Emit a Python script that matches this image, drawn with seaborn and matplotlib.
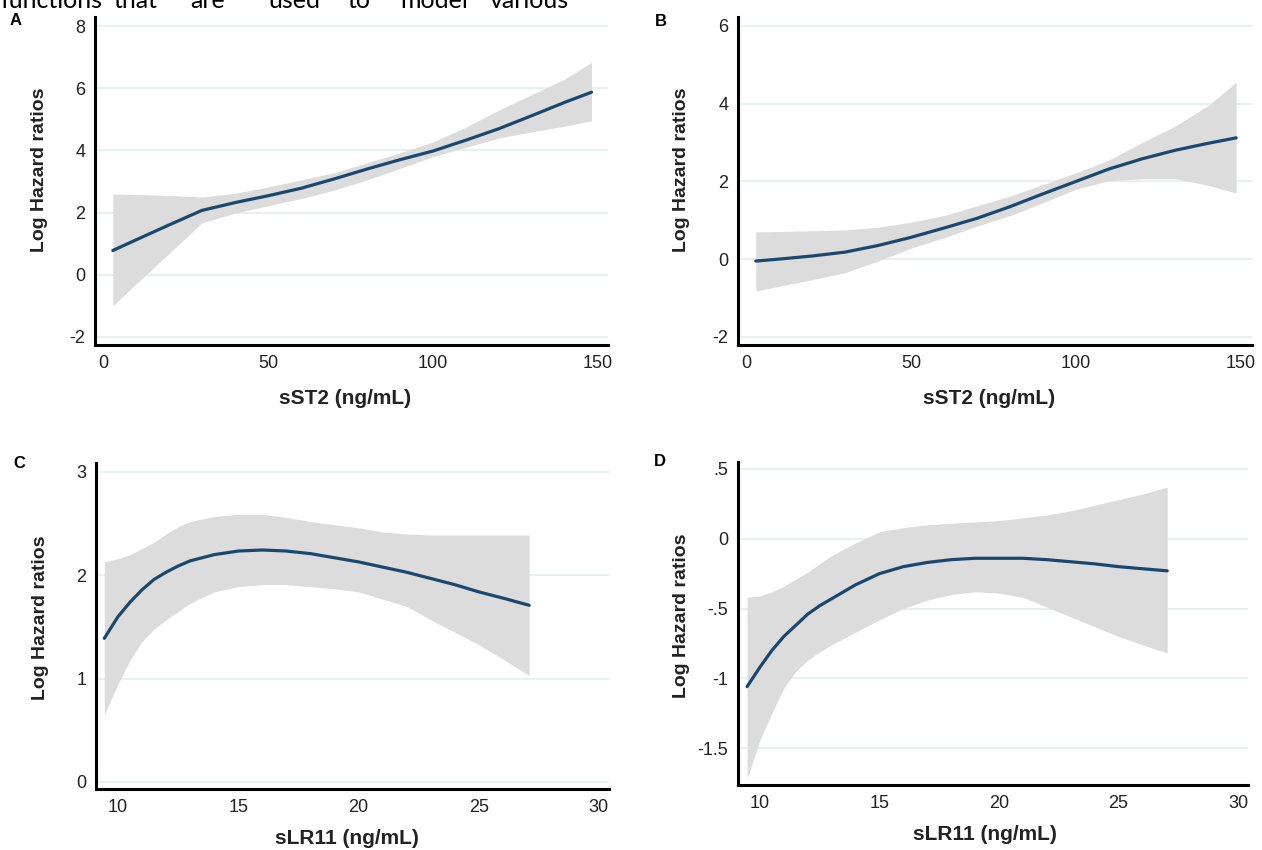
import matplotlib
matplotlib.use("Agg")
import matplotlib.pyplot as plt
import seaborn as sns

# ---------------- data ----------------
# Panel A: sST2 vs log hazard ratio
a_x  = [3, 10, 20, 30, 40, 50, 60, 70, 80, 90, 100, 110, 120, 130, 140, 148]
a_est = [0.78, 1.12, 1.60, 2.07, 2.32, 2.54, 2.78, 3.08, 3.40, 3.70, 3.98, 4.33, 4.70, 5.12, 5.55, 5.87]
a_lo  = [-1.0, -0.30, 0.68, 1.67, 1.98, 2.22, 2.45, 2.72, 3.05, 3.42, 3.80, 4.10, 4.40, 4.60, 4.78, 4.95]
a_hi  = [2.60, 2.58, 2.55, 2.50, 2.62, 2.82, 3.05, 3.28, 3.60, 3.92, 4.27, 4.75, 5.30, 5.80, 6.30, 6.83]

# Panel B: sST2 vs log hazard ratio
b_x  = [3, 10, 20, 30, 40, 50, 60, 70, 80, 90, 100, 110, 120, 130, 140, 148.5]
b_est = [-0.05, 0.0, 0.08, 0.18, 0.35, 0.56, 0.80, 1.05, 1.35, 1.68, 2.00, 2.32, 2.58, 2.80, 2.98, 3.12]
b_lo  = [-0.82, -0.70, -0.53, -0.35, -0.05, 0.28, 0.55, 0.85, 1.12, 1.45, 1.80, 2.02, 2.07, 2.07, 1.90, 1.70]
b_hi  = [0.70, 0.71, 0.73, 0.75, 0.82, 0.95, 1.12, 1.37, 1.62, 1.92, 2.22, 2.55, 3.00, 3.42, 3.95, 4.55]

# Panel C: sLR11 vs log hazard ratio
c_x  = [9.43, 10, 10.5, 11, 11.5, 12, 12.5, 13, 14, 15, 16, 17, 18, 19, 20, 21, 22, 23, 24, 25, 26, 27.1]
c_est = [1.39, 1.60, 1.74, 1.86, 1.96, 2.03, 2.09, 2.14, 2.20, 2.235, 2.245, 2.235, 2.21, 2.17, 2.13, 2.08, 2.03, 1.97, 1.91, 1.84, 1.78, 1.71]
c_lo  = [0.65, 0.95, 1.18, 1.36, 1.48, 1.57, 1.65, 1.73, 1.84, 1.89, 1.91, 1.91, 1.89, 1.87, 1.84, 1.77, 1.70, 1.57, 1.45, 1.33, 1.19, 1.03]
c_hi  = [2.13, 2.16, 2.20, 2.26, 2.32, 2.40, 2.47, 2.52, 2.57, 2.59, 2.59, 2.56, 2.52, 2.49, 2.46, 2.42, 2.40, 2.39, 2.39, 2.39, 2.39, 2.39]

# Panel D: sLR11 vs log hazard ratio
d_x  = [9.46, 10, 10.5, 11, 11.5, 12, 12.5, 13, 14, 15, 16, 17, 18, 19, 20, 21, 22, 23, 24, 25, 26, 27.04]
d_est = [-1.06, -0.92, -0.80, -0.70, -0.62, -0.54, -0.48, -0.43, -0.33, -0.25, -0.20, -0.17, -0.15, -0.14, -0.14, -0.14, -0.15, -0.165, -0.18, -0.20, -0.215, -0.23]
d_lo  = [-1.72, -1.44, -1.25, -1.07, -0.95, -0.87, -0.81, -0.76, -0.67, -0.58, -0.50, -0.44, -0.40, -0.38, -0.39, -0.42, -0.49, -0.56, -0.63, -0.70, -0.76, -0.82]
d_hi  = [-0.42, -0.41, -0.38, -0.34, -0.29, -0.24, -0.18, -0.12, -0.03, 0.05, 0.08, 0.10, 0.11, 0.12, 0.13, 0.15, 0.17, 0.20, 0.24, 0.28, 0.32, 0.37]

# tick values and labels
ab_xticks = [0, 50, 100, 150]
cd_xticks = [10, 15, 20, 25, 30]
a_yticks = [-2, 0, 2, 4, 6, 8]
a_yticklabels = ["-2", "0", "2", "4", "6", "8"]
b_yticks = [-2, 0, 2, 4, 6]
b_yticklabels = ["-2", "0", "2", "4", "6"]
c_yticks = [0, 1, 2, 3]
c_yticklabels = ["0", "1", "2", "3"]
d_yticks = [-1.5, -1, -0.5, 0, 0.5]
d_yticklabels = ["-1.5", "-1", "-.5", "0", ".5"]

ylabel_text = "Log Hazard ratios"
xlabel_sst2 = "sST2 (ng/mL)"
xlabel_slr11 = "sLR11 (ng/mL)"
panel_letters = ["A", "B", "C", "D"]
top_words = ["functions", "that", "are", "used", "to", "model", "various"]

# ---------------- style ----------------
sns.set_style("white")
plt.rcParams['font.family'] = ['Liberation Sans', 'DejaVu Sans']

W, H = 1262, 850
fig = plt.figure(figsize=(W / 100, H / 100), dpi=100)

LINE = "#1a476f"
FILL = "#dcdcdc"
GRID = "#e6eff1"
TXT = "#222222"

def px_rect(l, t, r, b):
    return [l / W, 1 - b / H, (r - l) / W, (b - t) / H]

panels = [
    dict(x=a_x, est=a_est, lo=a_lo, hi=a_hi, rect=px_rect(95, 17, 608, 345),
         xlim=(-2.4, 153.0), ylim=(-2.26, 8.29), xticks=ab_xticks,
         yticks=a_yticks, yticklabels=a_yticklabels, xlabel=xlabel_sst2,
         ylab_px=(40, 170), xlab_px=(345, 398), letter_px=(10, 13)),
    dict(x=b_x, est=b_est, lo=b_lo, hi=b_hi, rect=px_rect(738, 17, 1252, 345),
         xlim=(-2.4, 153.3), ylim=(-2.21, 6.23), xticks=ab_xticks,
         yticks=b_yticks, yticklabels=b_yticklabels, xlabel=xlabel_sst2,
         ylab_px=(682, 170), xlab_px=(989, 398), letter_px=(655, 14)),
    dict(x=c_x, est=c_est, lo=c_lo, hi=c_hi, rect=px_rect(96, 463, 609, 789),
         xlim=(9.085, 30.42), ylim=(-0.068, 3.087), xticks=cd_xticks,
         yticks=c_yticks, yticklabels=c_yticklabels, xlabel=xlabel_slr11,
         ylab_px=(41, 618), xlab_px=(347, 839), letter_px=(13, 456)),
    dict(x=d_x, est=d_est, lo=d_lo, hi=d_hi, rect=px_rect(738, 462, 1248, 785),
         xlim=(9.08, 30.42), ylim=(-1.765, 0.55), xticks=cd_xticks,
         yticks=d_yticks, yticklabels=d_yticklabels, xlabel=xlabel_slr11,
         ylab_px=(682, 616), xlab_px=(985, 835), letter_px=(654, 454)),
]

for letter, p in zip(panel_letters, panels):
    ax = fig.add_axes(p["rect"])
    ax.set_facecolor("white")
    ax.set_xlim(*p["xlim"])
    ax.set_ylim(*p["ylim"])
    ax.set_axisbelow(True)
    ax.yaxis.grid(True, color=GRID, lw=1.3)
    ax.xaxis.grid(False)

    ax.fill_between(p["x"], p["lo"], p["hi"], color=FILL, lw=0, zorder=1)
    sns.lineplot(x=p["x"], y=p["est"], ax=ax, color=LINE, lw=2.3,
                 errorbar=None, sort=False, zorder=3)

    for s in ("top", "right"):
        ax.spines[s].set_visible(False)
    for s in ("left", "bottom"):
        ax.spines[s].set_color("black")
        ax.spines[s].set_linewidth(2.2)

    ax.set_xticks(p["xticks"])
    ax.set_xticklabels([str(t) for t in p["xticks"]])
    ax.set_yticks(p["yticks"])
    ax.set_yticklabels(p["yticklabels"])
    ax.tick_params(axis="both", direction="out", length=4.5, width=1.0,
                   color="#444444", labelsize=13, labelcolor=TXT)
    ax.tick_params(axis="x", pad=3)
    ax.tick_params(axis="y", pad=2.5)

    ax.set_ylabel(ylabel_text, fontsize=14, fontweight="bold", color=TXT)
    lx, ly = p["ylab_px"]
    l, t, r, b = (p["rect"][0] * W, (1 - p["rect"][1] - p["rect"][3]) * H,
                  (p["rect"][0] + p["rect"][2]) * W, (1 - p["rect"][1]) * H)
    ax.yaxis.set_label_coords((lx - l) / (r - l), (b - ly) / (b - t))
    ax.yaxis.label.set_verticalalignment("center")

    ax.set_xlabel(p["xlabel"], fontsize=15, fontweight="bold", color=TXT)
    xx, xy = p["xlab_px"]
    ax.xaxis.set_label_coords((xx - l) / (r - l), (b - xy) / (b - t))
    ax.xaxis.label.set_verticalalignment("center")

    fx, fy = p["letter_px"]
    fig.text(fx / W, 1 - fy / H, letter, fontsize=12, fontweight="bold",
             ha="left", va="top", color="black")

# clipped line of body text above the figure (as in the reference crop)
word_px = [0, 113, 190, 268, 348, 400, 490]
for w, wx in zip(top_words, word_px):
    fig.text(wx / W, 1 - 8 / H, w, fontsize=18, family=["Lato", "DejaVu Sans"],
             ha="left", va="baseline", color="black")

fig.savefig("out.png", dpi=100, facecolor="white")
